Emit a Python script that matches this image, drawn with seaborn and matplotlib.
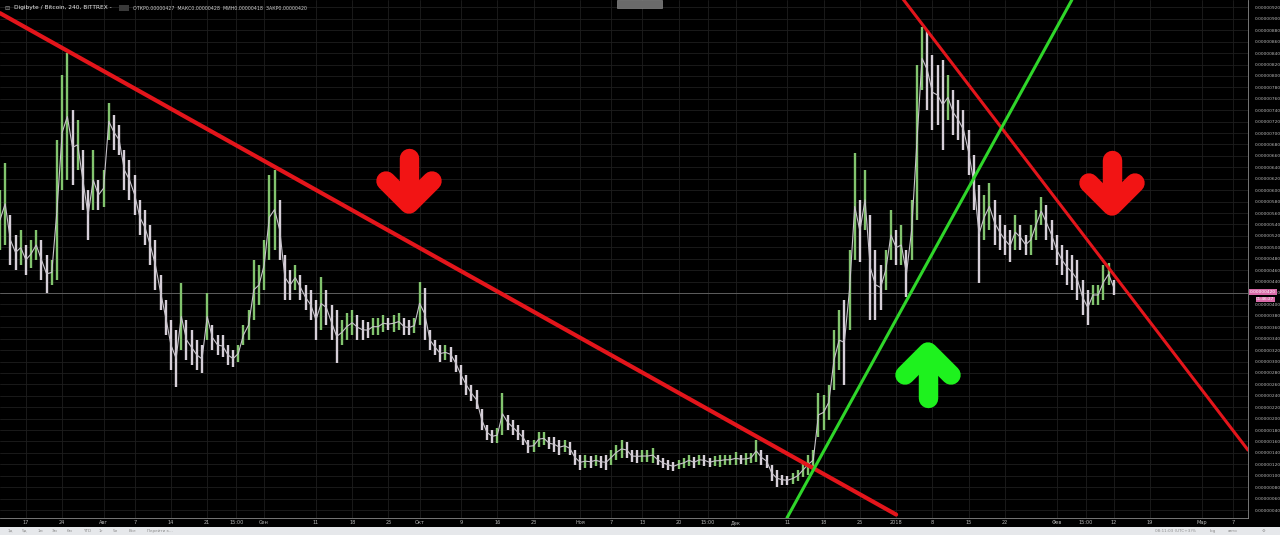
import numpy as np
import pandas as pd
import matplotlib
matplotlib.use("Agg")
import matplotlib.pyplot as plt
import seaborn as sns
from matplotlib.patches import Rectangle

# DGB/BTC, daily high / low (price in satoshi)
start = "2017-07-12"
highs = [600, 648, 557, 522, 530, 504, 513, 530, 513, 487,
         478, 688, 802, 840, 741, 723, 671, 600, 671, 618,
         636, 753, 732, 714, 671, 653, 627, 583, 565, 539,
         513, 452, 408, 373, 355, 438, 373, 355, 338, 329,
         420, 364, 346, 346, 329, 320, 329, 364, 390, 478,
         469, 513, 627, 636, 583, 487, 460, 469, 452, 434,
         425, 408, 448, 425, 399, 390, 373, 385, 390, 382,
         373, 369, 376, 376, 382, 376, 382, 385, 376, 373,
         376, 440, 429, 355, 338, 329, 329, 326, 312, 294,
         277, 259, 250, 216, 189, 180, 184, 245, 207, 198,
         189, 180, 163, 163, 177, 177, 168, 168, 163, 163,
         159, 145, 137, 137, 135, 137, 135, 137, 145, 154,
         163, 159, 145, 145, 145, 145, 149, 137, 131, 128,
         124, 128, 131, 137, 133, 137, 137, 131, 135, 137,
         137, 137, 142, 137, 140, 140, 163, 145, 137, 119,
         110, 102, 100, 104, 110, 123, 137, 145, 245, 242,
         259, 355, 390, 408, 496, 665, 583, 636, 557, 496,
         469, 496, 565, 530, 539, 496, 583, 819, 886, 881,
         837, 819, 828, 802, 776, 758, 741, 706, 662, 609,
         592, 613, 583, 557, 539, 530, 557, 539, 522, 539,
         565, 588, 574, 548, 522, 504, 496, 487, 478, 443,
         425, 434, 434, 469, 472, 443]
lows = [496, 504, 469, 460, 469, 452, 464, 478, 443, 420,
        434, 443, 600, 618, 609, 636, 565, 513, 565, 565,
        571, 688, 671, 662, 600, 583, 557, 522, 504, 469,
        425, 390, 346, 285, 256, 320, 303, 294, 285, 280,
        338, 320, 312, 308, 294, 290, 299, 329, 338, 373,
        399, 425, 478, 496, 478, 408, 408, 425, 408, 390,
        373, 338, 355, 364, 338, 298, 329, 338, 346, 338,
        338, 341, 346, 346, 352, 355, 352, 355, 346, 346,
        350, 364, 338, 320, 312, 299, 303, 299, 282, 259,
        242, 230, 216, 180, 163, 158, 158, 172, 180, 172,
        163, 154, 140, 142, 151, 154, 146, 142, 137, 142,
        137, 119, 110, 114, 114, 117, 114, 110, 119, 128,
        131, 131, 124, 123, 124, 124, 123, 119, 114, 110,
        109, 112, 114, 117, 114, 119, 117, 116, 117, 116,
        119, 119, 119, 121, 119, 123, 124, 119, 114, 90,
        81, 84, 84, 86, 90, 97, 102, 110, 168, 180,
        198, 250, 285, 259, 355, 478, 475, 530, 373, 373,
        390, 425, 478, 469, 469, 413, 478, 548, 776, 741,
        706, 714, 671, 723, 697, 688, 671, 627, 565, 438,
        513, 530, 504, 496, 487, 475, 496, 496, 487, 487,
        513, 539, 513, 496, 469, 452, 434, 425, 408, 382,
        364, 399, 399, 408, 434, 417]
last_price = 420

# trend lines drawn on the chart (two anchor points each)
red1_dates = ["2017-07-12 00:00", "2018-01-01 00:00"]
red1_prices = [910, 32]
red2_dates = ["2018-01-02 07:00", "2018-03-09 22:00"]
red2_prices = [935, 145]
green_dates = ["2017-12-10 22:00", "2018-02-03 22:00"]
green_prices = [26, 933]

tick_dates = ["2017-07-17", "2017-07-24", "2017-08-01", "2017-08-07", "2017-08-14",
              "2017-08-21", "2017-08-26 15:00", "2017-09-01", "2017-09-11", "2017-09-18",
              "2017-09-25", "2017-10-01", "2017-10-09", "2017-10-16", "2017-10-23",
              "2017-11-01", "2017-11-07", "2017-11-13", "2017-11-20", "2017-11-25 15:00",
              "2017-12-01", "2017-12-11", "2017-12-18", "2017-12-25", "2018-01-01",
              "2018-01-08", "2018-01-15", "2018-01-22", "2018-02-01", "2018-02-06 15:00",
              "2018-02-12", "2018-02-19", "2018-03-01", "2018-03-07"]
tick_labels = ["17", "24", "Авг", "7", "14", "21", "15:00", "Сен", "11", "18",
               "25", "Окт", "9", "16", "23", "Ноя", "7", "13", "20", "15:00",
               "Дек", "11", "18", "25", "2018", "8", "15", "22", "Фев", "15:00",
               "12", "19", "Мар", "7"]
y_ticks = list(range(40, 921, 20))

sns.set_theme(style="dark")
plt.rcParams['font.family'] = ['DejaVu Sans']

W, H = 1280, 535
fig = plt.figure(figsize=(W / 100, H / 100), dpi=100, facecolor="black")
ax = fig.add_axes([0, 17 / H, 1248 / W, 518 / H])
ax.set_facecolor("black")

days = pd.date_range(start, periods=len(highs), freq="D")
df = pd.DataFrame({"date": days, "high": highs, "low": lows})
df["mid"] = (df["high"] + df["low"]) / 2
up = df["mid"].diff().fillna(0) >= 0
cols = np.where(up, "#82c46e", "#d6cfd8")
ax.vlines(df["date"], df["low"], df["high"], colors=cols, lw=1.7, zorder=3)
sns.lineplot(data=df, x="date", y="mid", ax=ax, color="#c9c4cc", lw=0.8, zorder=4)

# current price line
ax.axhline(last_price, color="#5e5e5e", lw=0.7, zorder=2)

for d, p, c, lw in [(red1_dates, red1_prices, "#e3151b", 3.0),
                    (red2_dates, red2_prices, "#e3151b", 2.2),
                    (green_dates, green_prices, "#2fd62a", 2.2)]:
    sns.lineplot(x=pd.to_datetime(d, format="mixed"), y=p, ax=ax, color=c, lw=lw, zorder=5)

x0 = pd.Timestamp(start)
ax.set_xlim(x0, x0 + pd.Timedelta(days=1248 / 5.18))
ax.set_ylim(26, 933)

ax.set_xticks(pd.to_datetime(tick_dates, format="mixed"))
ax.set_xticklabels(tick_labels)
ax.set_yticks(y_ticks)
ax.set_yticklabels([f"{v * 1e-8:.8f}" for v in y_ticks])
ax.yaxis.tick_right()
ax.tick_params(axis="x", colors="#b8b8b8", labelsize=3.6, length=0, pad=1.5)
ax.tick_params(axis="y", colors="#b8b8b8", labelsize=3.2, length=0, pad=5)
ax.grid(True, color="#1e1e1e", lw=0.6)
ax.set_xlabel("")
ax.set_ylabel("")
for s in ["top", "left"]:
    ax.spines[s].set_visible(False)
ax.spines["right"].set_color("#8a8a8a")
ax.spines["bottom"].set_color("#8a8a8a")
ax.spines["right"].set_linewidth(0.6)
ax.spines["bottom"].set_linewidth(0.6)


def px(x, y):
    # pixel position inside the chart area -> axes fraction
    return x / 1248, 1 - y / 518


def arrow(cx, tip_y, tail_y, half, color):
    d = np.sign(tip_y - tail_y)
    pts_stem = [px(cx, tail_y), px(cx, tip_y - d * 4)]
    pts_head = [px(cx - half, tip_y - d * half), px(cx, tip_y), px(cx + half, tip_y - d * half)]
    for pts in (pts_stem, pts_head):
        xs, ys = zip(*pts)
        ax.plot(xs, ys, transform=ax.transAxes, color=color, lw=14,
                solid_capstyle="round", solid_joinstyle="round", zorder=6)


arrow(409, 204, 158, 23, "#f21414")
arrow(1112, 206, 160, 23, "#f21414")
arrow(928, 352, 398, 23, "#1ef21e")

# header
fig.text(4 / W, 1 - 8 / H, "⊟", color="#9a9a9a", fontsize=4.5, va="center")
fig.text(14 / W, 1 - 8 / H, "Digibyte / Bitcoin, 240, BITTREX -", color="#ececec",
         fontsize=4.2, va="center")
fig.patches.append(Rectangle((119 / W, 1 - 11 / H), 10 / W, 6 / H,
                             transform=fig.transFigure, facecolor="#3a3a3a",
                             edgecolor="none"))
fig.text(133 / W, 1 - 8 / H,
         "ОТКР0.00000427  МАКС0.00000428  МИН0.00000418  ЗАКР0.00000420",
         color="#cfcfcf", fontsize=3.4, va="center")
fig.patches.append(Rectangle((617 / W, 1 - 8 / H), 45 / W, 8 / H,
                             transform=fig.transFigure, facecolor="#6a6a6a",
                             edgecolor="#9a9a9a", lw=0.4))

# price badge on the scale
fig.text(1250 / W, 1 - 292 / H, "0.00000420", color="white", fontsize=3.2, va="center",
         bbox=dict(boxstyle="square,pad=0.15", facecolor="#d86aa8", edgecolor="none"))
fig.text(1256 / W, 1 - 299 / H, "01:46:27", color="white", fontsize=3.0, va="center",
         bbox=dict(boxstyle="square,pad=0.12", facecolor="#d86aa8", edgecolor="none"))

# bottom toolbar
fig.patches.append(Rectangle((0, 0), 1, 8 / H, transform=fig.transFigure,
                             facecolor="#e6e8eb", edgecolor="none"))
for x, t in [(8, "1д"), (22, "5д"), (38, "1м"), (52, "3м"), (67, "6м"), (83, "YTD"),
             (99, "1г"), (113, "5л"), (129, "Все"), (147, "Перейти к...")]:
    fig.text(x / W, 4 / H, t, color="#8c8c8c", fontsize=3.0, va="center")
for x, t in [(1155, "08:11:03 (UTC+3)"), (1192, "%"), (1210, "log"), (1228, "авто"), (1262, "⚙")]:
    fig.text(x / W, 4 / H, t, color="#8c8c8c", fontsize=3.0, va="center")

fig.savefig("out.png", dpi=100, facecolor="black")
